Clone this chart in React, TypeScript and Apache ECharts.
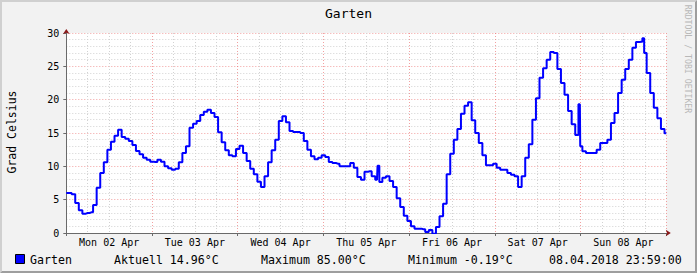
import React, { useEffect, useRef } from 'react';
import * as echarts from 'echarts';

const chartTitle = 'Garten';
const yAxisTitle = 'Grad Celsius';
const watermark = 'RRDTOOL / TOBI OETIKER';
const seriesName = 'Garten';
const dayLabels = ['Mon 02 Apr', 'Tue 03 Apr', 'Wed 04 Apr', 'Thu 05 Apr', 'Fri 06 Apr', 'Sat 07 Apr', 'Sun 08 Apr'];

// hourly temperatures (°C), one array per day, hour 0..23
const mon = [6.0, 6.0, 5.8, 4.5, 3.4, 2.9, 3.0, 3.1, 4.2, 6.8, 9.0, 10.6, 12.5, 13.7, 14.6, 15.5, 14.4, 14.15, 13.8, 13.2, 12.3, 11.8, 11.3, 11.0];
const tue = [10.7, 10.65, 11.0, 10.7, 10.0, 9.7, 9.5, 9.65, 10.6, 12.0, 13.0, 15.8, 16.4, 16.8, 17.7, 18.2, 18.5, 18.0, 17.4, 15.1, 13.6, 12.4, 11.65, 11.5];
const wed = [12.6, 13.1, 12.0, 10.8, 9.65, 8.8, 7.7, 6.9, 8.5, 10.6, 12.4, 14.0, 16.8, 17.5, 16.6, 15.3, 15.15, 15.15, 15.0, 13.8, 12.5, 11.5, 11.05, 11.3];
const thu = [11.65, 11.4, 10.65, 10.5, 10.4, 10.0, 10.0, 10.0, 10.5, 9.8, 8.4, 8.0, 9.2, 9.25, 8.5, 8.0, 7.65, 8.3, 8.5, 7.8, 6.9, 5.2, 3.9, 2.6];
const fri = [1.8, 1.0, 0.65, 0.65, 0.55, 0.15, 0.45, -0.1, 0.9, 2.5, 4.4, 8.8, 11.9, 14.0, 15.6, 17.9, 19.1, 19.6, 16.9, 15.0, 13.5, 11.65, 10.15, 10.15];
const sat = [10.4, 9.8, 9.5, 9.5, 9.0, 8.75, 8.5, 6.9, 8.5, 11.3, 13.3, 17.0, 20.2, 23.3, 24.7, 26.0, 27.15, 27.0, 24.6, 22.5, 20.75, 18.3, 16.3, 14.7];
const sun = [13.0, 12.25, 12.0, 12.0, 12.0, 12.5, 13.5, 13.5, 14.0, 16.5, 18.0, 21.0, 23.0, 24.6, 26.0, 27.8, 28.65, 28.7, 27.0, 24.0, 21.0, 18.8, 17.2, 15.6];
const days = [mon, tue, wed, thu, fri, sat, sun];

// short spikes between hourly samples
const spikeHours = [87.3, 143.8, 161.6];
const spikeValues = [10.1, 19.3, 29.2];

const aktuell = 14.96;
const maximum = 85.0;
const minimum = -0.19;
const lastUpdate = '08.04.2018 23:59:00';

const yMin = 0;
const yMax = 30;
const yStep = 5;
const hoursTotal = 168;

const MONO = '"DejaVu Sans Mono", "Liberation Mono", monospace';

export default function App() {
  const ref = useRef<HTMLDivElement>(null);
  useEffect(() => {
    if (!ref.current) return;
    const chart = echarts.init(ref.current, undefined, { renderer: 'svg' });

    const pts: [number, number][] = [];
    days.forEach((arr, d) => arr.forEach((v, h) => pts.push([d * 24 + h, v])));
    spikeHours.forEach((h, i) => pts.push([h, spikeValues[i]]));
    pts.push([hoursTotal, aktuell]);
    pts.sort((a, b) => a[0] - b[0]);

    const axisGrey = '#6a6a6a';
    const arrowRed = '#8b1a1a';
    const majorGrid = 'rgba(235,110,110,0.65)';
    const minorGrid = '#d2d2d2';

    chart.setOption({
      animation: false,
      backgroundColor: '#f2f2f2',
      grid: {
        left: 66.3,
        right: 697 - 666.3,
        top: 33,
        bottom: 40,
        show: true,
        backgroundColor: '#ffffff',
        borderWidth: 0,
        containLabel: false,
        outerBoundsMode: 'none',
      },
      xAxis: [
        {
          type: 'value',
          position: 'bottom',
          min: 0,
          max: hoursTotal,
          interval: 24,
          axisLine: {
            show: true,
            onZero: false,
            lineStyle: { color: arrowRed, width: 1 },
            symbol: ['none', 'arrow'],
            symbolSize: [5, 5],
            symbolOffset: [0, 4.5],
          },
          axisTick: { show: true, length: 3, lineStyle: { color: axisGrey } },
          axisLabel: { show: false },
          splitLine: { show: false },
        },
        {
          type: 'value',
          position: 'bottom',
          min: 0,
          max: hoursTotal,
          interval: 12,
          axisLine: { show: true, onZero: false, lineStyle: { color: axisGrey, width: 1 } },
          axisTick: { show: false },
          axisLabel: {
            show: true,
            margin: 4,
            color: '#000',
            fontFamily: MONO,
            fontSize: 10,
            formatter: (v: number) => (v % 24 === 12 ? dayLabels[(v - 12) / 24] : ''),
          },
          splitLine: {
            show: true,
            lineStyle: { color: [majorGrid, minorGrid], type: [1, 2], width: 1 },
          },
          minorTick: { show: false, splitNumber: 2 },
          minorSplitLine: { show: true, lineStyle: { color: minorGrid, type: [1, 2], width: 1 } },
        },
      ],
      yAxis: [
        {
          type: 'value',
          position: 'left',
          min: yMin,
          max: yMax,
          interval: yStep,
          axisLine: {
            show: true,
            onZero: false,
            lineStyle: { color: arrowRed, width: 1 },
            symbol: ['none', 'arrow'],
            symbolSize: [5, 5],
            symbolOffset: [0, 4],
          },
          axisTick: { show: false },
          axisLabel: { show: false },
          splitLine: { show: false },
        },
        {
          type: 'value',
          position: 'left',
          min: yMin,
          max: yMax,
          interval: yStep,
          axisLine: { show: true, onZero: false, lineStyle: { color: axisGrey, width: 1 } },
          axisTick: { show: true, length: 3, lineStyle: { color: axisGrey } },
          axisLabel: { show: true, margin: 7, color: '#000', fontFamily: MONO, fontSize: 10 },
          splitLine: {
            show: true,
            showMinLine: false,
            lineStyle: { color: majorGrid, type: [1, 2], width: 1 },
          },
          minorTick: { show: false, splitNumber: 5 },
          minorSplitLine: { show: true, lineStyle: { color: minorGrid, type: [1, 2], width: 1 } },
        },
      ],
      series: [
        {
          name: seriesName,
          type: 'line',
          xAxisIndex: 1,
          yAxisIndex: 1,
          step: 'middle',
          showSymbol: false,
          symbol: 'none',
          data: pts,
          lineStyle: { color: '#0000ff', width: 2 },
          itemStyle: { color: '#0000ff' },
          clip: true,
        },
      ],
      graphic: [
        {
          type: 'polygon',
          silent: true,
          shape: { points: [[0, 0], [697, 0], [695, 2], [2, 2], [2, 271], [0, 273]] },
          style: { fill: '#d0d0d0' },
        },
        {
          type: 'polygon',
          silent: true,
          shape: { points: [[697, 0], [697, 273], [0, 273], [2, 271], [695, 271], [695, 2]] },
          style: { fill: '#9e9e9e' },
        },
        {
          type: 'text',
          x: 348.5,
          y: 13.5,
          style: { text: chartTitle, fill: '#000', font: `13px ${MONO}`, align: 'center', verticalAlign: 'middle' },
        },
        {
          type: 'text',
          x: 12,
          y: 132,
          rotation: Math.PI / 2,
          style: { text: yAxisTitle, fill: '#000', font: `11.5px ${MONO}`, align: 'center', verticalAlign: 'middle' },
        },
        {
          type: 'text',
          x: 688,
          y: 59,
          rotation: -Math.PI / 2,
          style: { text: watermark, fill: '#b8b8b8', font: `8.2px ${MONO}`, align: 'center', verticalAlign: 'middle' },
        },
        {
          type: 'rect',
          shape: { x: 15.5, y: 254.5, width: 9, height: 9 },
          style: { fill: '#0000ff', stroke: '#000', lineWidth: 1 },
        },
        {
          type: 'text',
          x: 30,
          y: 259.5,
          style: { text: seriesName, fill: '#000', font: `11.6px ${MONO}`, verticalAlign: 'middle' },
        },
        {
          type: 'text',
          x: 114,
          y: 259.5,
          style: { text: `Aktuell ${aktuell.toFixed(2)}°C`, fill: '#000', font: `11.6px ${MONO}`, verticalAlign: 'middle' },
        },
        {
          type: 'text',
          x: 261,
          y: 259.5,
          style: { text: `Maximum ${maximum.toFixed(2)}°C`, fill: '#000', font: `11.6px ${MONO}`, verticalAlign: 'middle' },
        },
        {
          type: 'text',
          x: 408,
          y: 259.5,
          style: { text: `Minimum ${minimum.toFixed(2)}°C`, fill: '#000', font: `11.6px ${MONO}`, verticalAlign: 'middle' },
        },
        {
          type: 'text',
          x: 549,
          y: 259.5,
          style: { text: lastUpdate, fill: '#000', font: `11.6px ${MONO}`, verticalAlign: 'middle' },
        },
      ],
    });
    return () => chart.dispose();
  }, []);
  return <div ref={ref} style={{ position: 'fixed', left: 0, top: 0, width: 697, height: 273 }} />;
}
